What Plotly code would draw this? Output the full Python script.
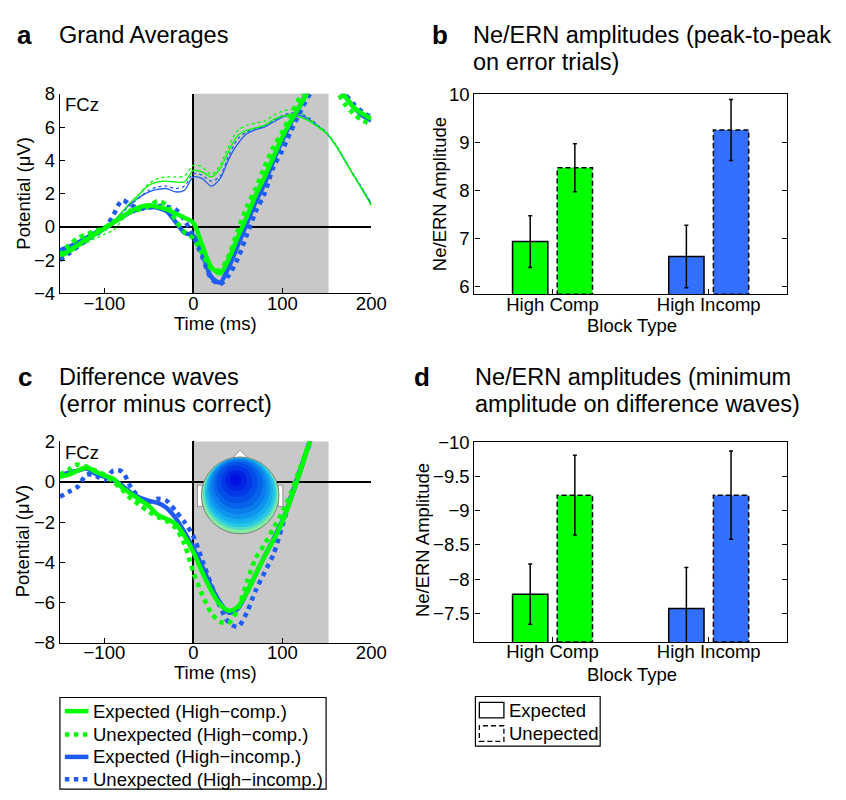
import plotly.graph_objects as go

# ---------------- DATA ----------------
t = list(range(-150, 201, 10))  # ms

# Panel a: grand averages (error trials = thick, correct trials = thin)
a_exp_comp = [-1.7, -1.45, -1.1, -0.75, -0.4, -0.1, 0.25, 0.6, 0.95, 1.2, 1.3, 1.2, 1.05, 0.8, 0.55, 0.25,
              -1.1, -2.4, -2.8, -1.9, -0.6, 0.6, 1.9, 3.0, 4.2, 5.4, 6.4, 7.3, 8.2, 8.8, 9.0, 8.7, 7.9, 7.2, 6.8, 6.5]
a_unexp_comp = [-1.7, -1.1, -0.7, -0.45, -0.25, -0.05, 0.3, 0.6, 0.9, 1.05, 1.25, 1.55, 1.3, 0.4, -0.3, -0.7,
                -1.6, -2.5, -2.6, -1.7, -0.2, 1.2, 2.3, 3.6, 4.8, 5.7, 6.8, 7.8, 8.6, 9.0, 8.9, 8.3, 7.4, 6.8, 6.4, 6.2]
a_exp_incomp = [-1.4, -1.2, -0.95, -0.65, -0.35, -0.1, 0.25, 0.6, 0.9, 1.1, 1.2, 1.15, 0.95, 0.3, -0.35, -0.55,
                -1.6, -3.0, -3.35, -2.4, -1.1, 0.2, 1.5, 2.6, 4.0, 5.2, 6.3, 7.3, 8.3, 8.9, 9.0, 8.6, 7.9, 7.2, 6.7, 6.4]
a_unexp_incomp = [-2.0, -1.6, -1.2, -0.8, -0.45, -0.15, 0.7, 1.6, 1.3, 1.1, 1.15, 1.25, 1.2, 1.05, 0.4, -0.6,
                  -1.8, -3.1, -3.45, -2.9, -1.9, -0.5, 0.9, 2.0, 3.6, 4.6, 5.8, 6.9, 7.9, 8.6, 8.9, 8.6, 8.0, 7.4, 6.9, 6.6]
a_cor_exp_comp = [-1.9, -1.6, -1.25, -0.9, -0.55, -0.2, 0.3, 0.9, 1.5, 2.0, 2.5, 2.7, 2.75, 2.7, 2.7, 3.4,
                  3.3, 3.0, 3.5, 4.6, 5.5, 5.8, 5.95, 6.1, 6.45, 6.65, 6.7, 6.6, 6.35, 6.0, 5.6, 4.9, 4.0, 3.1, 2.2, 1.3]
a_cor_unexp_comp = [-1.75, -1.5, -1.2, -0.95, -0.7, -0.45, -0.2, 0.4, 1.2, 2.0, 2.6, 2.9, 3.0, 3.0, 3.05, 3.7,
                    3.6, 3.15, 3.7, 4.9, 5.8, 6.1, 6.25, 6.35, 6.7, 6.95, 7.05, 6.9, 6.5, 6.1, 5.65, 4.95, 4.05, 3.15, 2.25, 1.3]
a_cor_exp_incomp = [-1.5, -1.25, -1.0, -0.75, -0.45, -0.15, 0.3, 0.9, 1.4, 1.8, 2.1, 2.25, 2.3, 2.1, 2.2, 3.0,
                    2.9, 2.45, 2.9, 4.1, 5.0, 5.6, 5.85, 6.0, 6.3, 6.6, 6.75, 6.7, 6.45, 6.05, 5.6, 4.9, 4.0, 3.1, 2.25, 1.4]
a_cor_unexp_incomp = [-1.55, -1.3, -1.05, -0.8, -0.5, -0.2, 0.25, 0.85, 1.35, 1.8, 2.2, 2.4, 2.45, 2.3, 2.45, 3.2,
                      3.1, 2.75, 3.05, 4.3, 5.3, 5.7, 5.9, 6.05, 6.4, 6.7, 6.85, 6.8, 6.55, 6.1, 5.65, 4.95, 4.05, 3.15, 2.3, 1.4]

# Panel c: difference waves (error minus correct), -150..140 ms
tc = list(range(-150, 141, 10))
c_exp_comp = [0.25, 0.35, 0.55, 0.7, 0.5, 0.3, 0.15, -0.3, -0.6, -0.9, -1.2, -1.65, -1.85, -2.1, -2.7, -3.5,
              -4.5, -5.4, -6.1, -6.4, -6.2, -5.5, -4.6, -3.7, -2.9, -2.0, -0.8, 0.5, 1.85, 3.2]
c_unexp_comp = [0.35, 0.6, 0.85, 0.75, 0.55, 0.35, 0.0, -0.4, -0.85, -1.15, -1.5, -1.75, -1.95, -2.3, -3.1, -4.5,
                -5.6, -6.5, -6.95, -7.0, -6.3, -5.0, -3.8, -3.1, -2.3, -1.5, -0.5, 0.7, 1.9, 3.1]
c_exp_incomp = [0.3, 0.45, 0.55, 0.65, 0.4, 0.25, 0.1, -0.2, -0.55, -0.8, -0.95, -1.05, -1.3, -1.8, -2.5, -3.3,
                -4.2, -5.2, -6.0, -6.5, -6.3, -5.5, -4.6, -3.7, -2.85, -1.95, -0.8, 0.5, 1.9, 3.2]
c_unexp_incomp = [-0.75, -0.5, -0.25, 0.35, 0.3, 0.1, 0.55, 0.5, -0.3, -0.8, -1.0, -0.85, -0.95, -1.45, -2.0, -2.7,
                  -3.9, -5.1, -6.2, -7.0, -7.2, -6.5, -5.4, -4.5, -3.6, -2.2, -0.7, 0.6, 1.8, 3.0]

# Panels b / d: bar values
block_types = ["High Comp", "High Incomp"]
b_expected = [6.94, 6.63]
b_expected_err = [0.54, 0.65]
b_unexpected = [8.48, 9.265]
b_unexpected_err = [0.50, 0.635]
d_expected = [-7.78, -7.57]
d_expected_err = [0.44, 0.60]
d_unexpected = [-9.227, -9.227]
d_unexpected_err = [0.583, 0.645]

# ---------------- STYLE ----------------
W, H = 846, 800
GREEN = "#00ff00"
BLUE_LINE = "#1f5cf2"
BLUE_BAR = "#3370ff"
GRAY = "#c8c8c8"
FONT = "Liberation Sans, Arial, Helvetica, sans-serif"
FS = 18.5


def px(x):
    return x / W


def py(y):
    return 1 - y / H


fig = go.Figure()


def add_line(x, y, color, width, dash, xa, ya):
    fig.add_trace(go.Scatter(x=x, y=y, mode="lines", xaxis=xa, yaxis=ya, showlegend=False,
                             hoverinfo="skip",
                             line=dict(color=color, width=width, dash=dash, shape="spline", smoothing=0.8)))


# Panel a: thin correct-trial lines first, then thick error-trial lines
add_line(t, a_cor_exp_incomp, BLUE_LINE, 1.3, "solid", "x", "y")
add_line(t, a_cor_unexp_incomp, BLUE_LINE, 1.3, "dot", "x", "y")
add_line(t, a_cor_exp_comp, GREEN, 1.3, "solid", "x", "y")
add_line(t, a_cor_unexp_comp, GREEN, 1.3, "dot", "x", "y")
add_line(t, a_unexp_incomp, BLUE_LINE, 4.5, "dot", "x", "y")
add_line(t, a_exp_incomp, BLUE_LINE, 4.5, "solid", "x", "y")
add_line(t, a_unexp_comp, GREEN, 4.5, "dot", "x", "y")
add_line(t, a_exp_comp, GREEN, 4.5, "solid", "x", "y")

# Panel c
add_line(tc, c_unexp_incomp, BLUE_LINE, 4.5, "dot", "x3", "y3")
add_line(tc, c_exp_incomp, BLUE_LINE, 4.5, "solid", "x3", "y3")
add_line(tc, c_unexp_comp, GREEN, 4.5, "dot", "x3", "y3")
add_line(tc, c_exp_comp, GREEN, 4.5, "solid", "x3", "y3")

# Bars
BAR_W = 0.226
OFF_EXP = -0.143 - BAR_W / 2
OFF_UNEXP = 0.143 - BAR_W / 2
xpos = [1, 2]
bar_colors = [GREEN, BLUE_BAR]


def add_bars(vals, errs, off, xa, ya, solid):
    fig.add_trace(go.Bar(x=xpos, y=vals, width=BAR_W, offset=off, xaxis=xa, yaxis=ya, showlegend=False,
                         hoverinfo="skip",
                         marker=dict(color=bar_colors, line=dict(color="black", width=1.5 if solid else 0)),
                         error_y=dict(type="data", array=errs, color="black", thickness=1.5, width=2)))


add_bars(b_expected, b_expected_err, OFF_EXP, "x2", "y2", True)
add_bars(b_unexpected, b_unexpected_err, OFF_UNEXP, "x2", "y2", False)
add_bars(d_expected, d_expected_err, OFF_EXP, "x4", "y4", True)
add_bars(d_unexpected, d_unexpected_err, OFF_UNEXP, "x4", "y4", False)

B_RANGE = [5.84, 10.02]
D_RANGE = [-7.08, -10.0]

shapes = []
# gray analysis windows
for xr, yr in (("x", "y domain"), ("x3", "y3 domain")):
    shapes.append(dict(type="rect", xref=xr, yref=yr, x0=0, x1=152, y0=0, y1=1,
                       fillcolor=GRAY, line=dict(width=0), layer="below"))

# dashed outlines for unexpected bars
for vals, xr, yr, rng in ((b_unexpected, "x2", "y2", B_RANGE), (d_unexpected, "x4", "y4", D_RANGE)):
    for xi, v in zip(xpos, vals):
        shapes.append(dict(type="rect", xref=xr, yref=yr, x0=xi + OFF_UNEXP, x1=xi + OFF_UNEXP + BAR_W,
                           y0=rng[0], y1=v, line=dict(color="black", width=1.5, dash="5px,3px"),
                           fillcolor="rgba(0,0,0,0)", layer="above"))

# topographic inset (decorative), pixel geometry
HX, HY, HR = 244.5, 497.5, 39.5


def circ(cx, cy, r, fill, line=None):
    return dict(type="circle", xref="paper", yref="paper",
                x0=px(cx - r), x1=px(cx + r), y0=py(cy + r), y1=py(cy - r),
                fillcolor=fill, line=line or dict(width=0), layer="above")


# ears and nose
shapes.append(dict(type="rect", xref="paper", yref="paper", x0=px(201), x1=px(206), y0=py(509), y1=py(487),
                   fillcolor="white", line=dict(color="#909090", width=1), layer="above"))
shapes.append(dict(type="rect", xref="paper", yref="paper", x0=px(283), x1=px(288), y0=py(509), y1=py(487),
                   fillcolor="white", line=dict(color="#909090", width=1), layer="above"))
shapes.append(dict(type="path", xref="paper", yref="paper",
                   path=f"M {px(236)} {py(460)} L {px(244.5)} {py(451)} L {px(253)} {py(460)} Z",
                   fillcolor="white", line=dict(color="#909090", width=1), layer="above"))
topo_layers = [
    (0, 0, 39.5, "#84eaa4"),
    (0, -2, 37.5, "#4cdcc6"),
    (0, -3.5, 36, "#28c6e6"),
    (-0.5, -5, 34, "#16aeec"),
    (-1, -7, 31.5, "#0e94ee"),
    (-1.5, -9, 28.5, "#0a7cec"),
    (-2, -11, 25, "#0664ea"),
    (-3, -13, 21, "#044ee8"),
    (-3.5, -14.5, 16, "#0238e6"),
    (-4, -15.5, 11, "#0124e4"),
    (-4.5, -16, 6, "#0010e0"),
]
for dx, dy, r, col in topo_layers:
    shapes.append(circ(HX + dx, HY + dy, r, col))
shapes.append(circ(HX, HY, HR, "rgba(0,0,0,0)", dict(color="#808080", width=1)))

# legend 1 (manual)
shapes.append(dict(type="rect", xref="paper", yref="paper", x0=px(61), x1=px(332), y0=py(799), y1=py(705),
                   line=dict(color="black", width=1.2), fillcolor="white", layer="above"))
leg1 = [("Expected (High−comp.)", GREEN, "solid", 719),
        ("Unexpected (High−comp.)", GREEN, "dot", 743),
        ("Expected (High−incomp.)", BLUE_LINE, "solid", 766),
        ("Unexpected (High−incomp.)", BLUE_LINE, "dot", 789)]
annotations = []
for label, col, dash, yy in leg1:
    shapes.append(dict(type="line", xref="paper", yref="paper", x0=px(66), x1=px(90), y0=py(yy), y1=py(yy),
                       line=dict(color=col, width=4.5, dash=dash), layer="above"))
    annotations.append(dict(text=label, x=px(93), y=py(yy), xref="paper", yref="paper", xanchor="left",
                            yanchor="middle", showarrow=False, font=dict(family=FONT, size=FS, color="black")))

# legend 2 (manual)
shapes.append(dict(type="rect", xref="paper", yref="paper", x0=px(484), x1=px(611), y0=py(755), y1=py(704),
                   line=dict(color="black", width=1.2), fillcolor="white", layer="above"))
shapes.append(dict(type="rect", xref="paper", yref="paper", x0=px(488), x1=px(513), y0=py(726), y1=py(710),
                   line=dict(color="black", width=1.3), fillcolor="white", layer="above"))
shapes.append(dict(type="rect", xref="paper", yref="paper", x0=px(488), x1=px(513), y0=py(750), y1=py(734),
                   line=dict(color="black", width=1.3, dash="5px,3px"), fillcolor="white", layer="above"))
for label, yy in (("Expected", 718), ("Unepected", 742)):
    annotations.append(dict(text=label, x=px(516), y=py(yy), xref="paper", yref="paper", xanchor="left",
                            yanchor="middle", showarrow=False, font=dict(family=FONT, size=FS, color="black")))


def note(text, x, y, size=FS, anchor="left", angle=0, bold=False):
    annotations.append(dict(text=f"<b>{text}</b>" if bold else text, x=px(x), y=py(y), xref="paper",
                            yref="paper", xanchor=anchor, yanchor="middle", showarrow=False, textangle=angle,
                            font=dict(family=FONT, size=size, color="black")))


# panel titles
note("a", 24.5, 25, 26, "center", bold=True)
note("Grand Averages", 58, 25, 23.5)
note("b", 448, 25, 26, "center", bold=True)
note("Ne/ERN amplitudes (peak-to-peak", 480, 25, 23.5)
note("on error trials)", 480, 52, 23.5)
note("c", 25, 376, 26, "center", bold=True)
note("Difference waves", 58, 376, 23.5)
note("(error minus correct)", 58, 404, 23.5)
note("d", 430, 376, 26, "center", bold=True)
note("Ne/ERN amplitudes (minimum", 482, 376, 23.5)
note("amplitude on difference waves)", 482, 404, 23.5)

# axis titles
note("Time (ms)", 219, 321, anchor="center")
note("Time (ms)", 219, 679, anchor="center")
note("Potential (μV)", 23, 188, anchor="center", angle=-90)
note("Potential (μV)", 23, 545, anchor="center", angle=-90)
note("Block Type", 643, 323, anchor="center")
note("Block Type", 643, 681, anchor="center")
note("Ne/ERN Amplitude", 447, 188, anchor="center", angle=-90)
note("Ne/ERN Amplitude", 430, 543, anchor="center", angle=-90)
note("FCz", 64, 96)
note("FCz", 64, 453)

axis_common = dict(showgrid=False, showline=True, linecolor="black", linewidth=1.2, ticks="inside",
                   ticklen=5, tickcolor="black", tickwidth=1,
                   tickfont=dict(family=FONT, size=FS, color="black"))
x_common = dict(axis_common, ticklabelstandoff=-7)

fig.update_layout(
    width=W, height=H, margin=dict(l=0, r=0, t=0, b=0),
    paper_bgcolor="white", plot_bgcolor="white", showlegend=False, barmode="overlay",
    shapes=shapes, annotations=annotations,
    xaxis=dict(domain=[px(61), px(378)], range=[-150, 200], anchor="y", tickvals=[-100, 0, 100, 200],
               zeroline=True, zerolinecolor="black", zerolinewidth=1.5, **x_common),
    yaxis=dict(domain=[py(290), py(85)], range=[-4, 8], anchor="x", tickvals=[-4, -2, 0, 2, 4, 6, 8],
               zeroline=True, zerolinecolor="black", zerolinewidth=1.5, **axis_common),
    xaxis3=dict(domain=[px(61), px(378)], range=[-150, 200], anchor="y3", tickvals=[-100, 0, 100, 200],
                zeroline=True, zerolinecolor="black", zerolinewidth=1.5, **x_common),
    yaxis3=dict(domain=[py(649), py(442)], range=[-8, 2], anchor="x3", tickvals=[-8, -6, -4, -2, 0, 2],
                zeroline=True, zerolinecolor="black", zerolinewidth=1.5, **axis_common),
    xaxis2=dict(domain=[px(483), px(801)], range=[0.5, 2.5], anchor="y2", tickvals=xpos,
                ticktext=block_types, zeroline=False, mirror=True, **x_common),
    yaxis2=dict(domain=[py(291), py(85)], range=B_RANGE, anchor="x2", tickvals=[6, 7, 8, 9, 10],
                zeroline=False, mirror="ticks", **axis_common),
    xaxis4=dict(domain=[px(483), px(801)], range=[0.5, 2.5], anchor="y4", tickvals=xpos,
                ticktext=block_types, zeroline=False, mirror=True, **x_common),
    yaxis4=dict(domain=[py(648), py(443)], range=D_RANGE, anchor="x4",
                tickvals=[-10, -9.5, -9, -8.5, -8, -7.5], zeroline=False, mirror="ticks", **axis_common),
)

fig.write_html("out.html")
